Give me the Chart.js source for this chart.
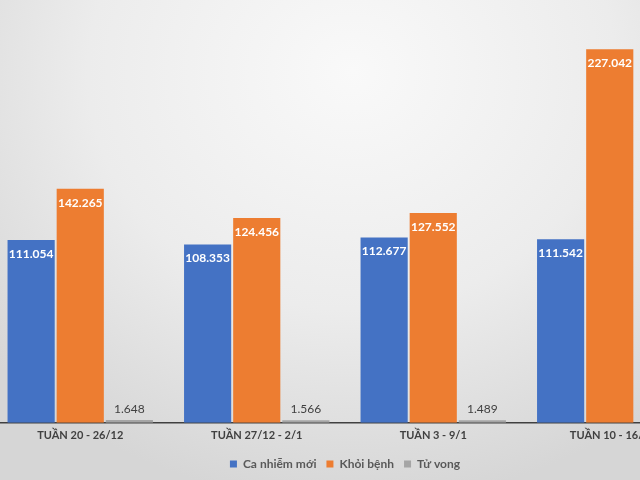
<!DOCTYPE html>
<html>
<head>
<meta charset="utf-8">
<script src="https://cdn.jsdelivr.net/npm/chart.js@4/dist/chart.umd.min.js"></script>
<style>
  html, body { margin: 0; padding: 0; width: 640px; height: 480px; overflow: hidden; }
  body { background: radial-gradient(ellipse 75% 90% at 55% 15%, #f9f9f9 0%, #ececec 55%, #d6d6d6 100%); position: relative; }
  #wrap { position: absolute; left: -8px; top: 0; width: 728px; height: 480px; }
</style>
</head>
<body>
<div id="wrap"><canvas id="chart"></canvas></div>
<script>
const weeks = ['TUẦN 20 - 26/12', 'TUẦN 27/12 - 2/1', 'TUẦN 3 - 9/1', 'TUẦN 10 - 16/1'];
const seriesNames = ['Ca nhiễm mới', 'Khỏi bệnh', 'Tử vong'];
const newCases = [111054, 108353, 112677, 111542];
const recovered = [142265, 124456, 127552, 227042];
const deaths = [1648, 1566, 1489, null];
const colors = ['#4472C4', '#ED7D31', '#A5A5A5'];

// 111054 -> "111.054"
function fmt(v) {
  return String(v).replace(/\B(?=(\d{3})+(?!\d))/g, '.');
}

const valueLabels = {
  id: 'valueLabels',
  afterDatasetsDraw(chart) {
    const ctx = chart.ctx;
    chart.data.datasets.forEach((ds, i) => {
      const meta = chart.getDatasetMeta(i);
      meta.data.forEach((bar, j) => {
        const v = ds.data[j];
        if (v == null) return;
        ctx.save();
        ctx.textAlign = 'center';
        ctx.textBaseline = 'middle';
        if (i === 2) {
          ctx.fillStyle = '#404040';
          ctx.font = '12px Lato';
          ctx.fillText(fmt(v), bar.x, bar.y - 11);
        } else {
          ctx.fillStyle = '#ffffff';
          ctx.font = 'bold 12px Lato';
          ctx.fillText(fmt(v), bar.x, bar.y + 14);
        }
        ctx.restore();
      });
    });
  }
};

new Chart(document.getElementById('chart'), {
  type: 'bar',
  data: {
    labels: weeks,
    datasets: [
      { label: seriesNames[0], data: newCases, backgroundColor: colors[0] },
      { label: seriesNames[1], data: recovered, backgroundColor: colors[1] },
      { label: seriesNames[2], data: deaths, backgroundColor: colors[2] }
    ]
  },
  options: {
    responsive: true,
    maintainAspectRatio: false,
    animation: false,
    layout: { padding: { top: 0, left: 0, right: 22, bottom: 0 } },
    datasets: { bar: { categoryPercentage: 0.835, barPercentage: 0.96 } },
    scales: {
      x: {
        grid: { display: false, drawTicks: false },
        border: { display: true, color: '#404040', width: 1.5 },
        ticks: { color: '#404040', font: { family: 'Lato', size: 11, weight: 'bold' }, padding: 6 }
      },
      y: {
        display: false,
        min: 0,
        max: 257000
      }
    },
    plugins: {
      legend: {
        position: 'bottom',
        labels: {
          boxWidth: 7, boxHeight: 7, padding: 10,
          color: '#595959',
          font: { family: 'Lato', size: 12, weight: 'bold' }
        }
      },
      tooltip: { enabled: false }
    }
  },
  plugins: [valueLabels]
});
</script>
</body>
</html>
